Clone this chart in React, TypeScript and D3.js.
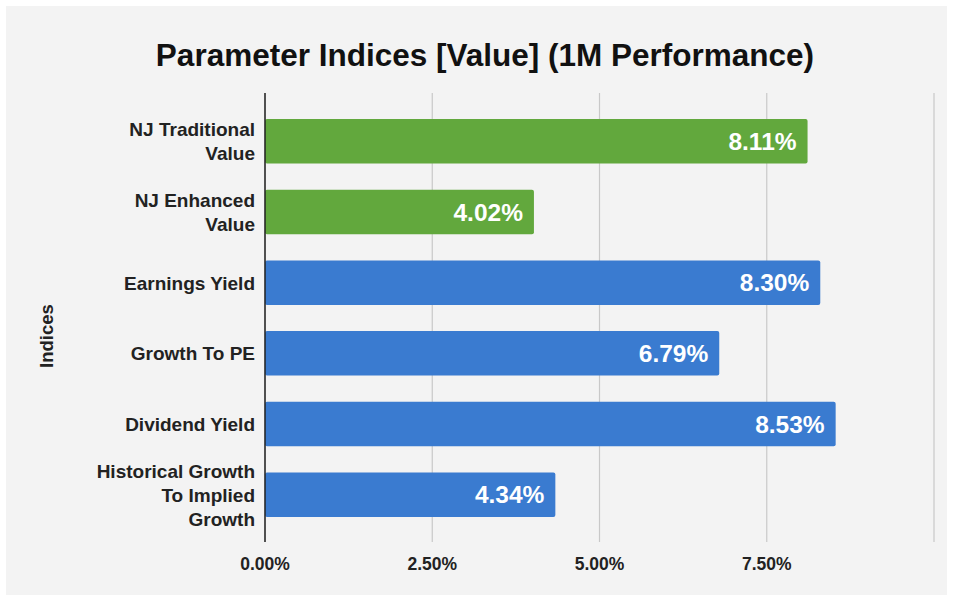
import React from "react";
import * as d3 from "d3";

const categories: string[][] = [
  ["NJ Traditional", "Value"],
  ["NJ Enhanced", "Value"],
  ["Earnings Yield"],
  ["Growth To PE"],
  ["Dividend Yield"],
  ["Historical Growth", "To Implied", "Growth"],
];
const values = [8.11, 4.02, 8.3, 6.79, 8.53, 4.34];
const groups = ["NJ", "NJ", "Param", "Param", "Param", "Param"];
const ticks = [0, 2.5, 5, 7.5, 10];
const tickLabels = ["0.00%", "2.50%", "5.00%", "7.50%", ""];
const title = "Parameter Indices [Value] (1M Performance)";
const yTitle = "Indices";

const W = 953;
const H = 597;
const FONT = "'Liberation Sans', Arial, Helvetica, sans-serif";

export default function App() {
  const x = d3.scaleLinear().domain([0, 10]).range([265, 934]);
  const idx = categories.map((_, i) => String(i));
  const y = d3.scaleBand().domain(idx).range([106, 530]).paddingInner(0.37).paddingOuter(0.185);
  const color = d3.scaleOrdinal<string, string>().domain(["NJ", "Param"]).range(["#62a83d", "#3a7bd0"]);

  return (
    <svg width={W} height={H} style={{ position: "absolute", left: 0, top: 0, fontFamily: FONT }}>
      <rect x={0} y={0} width={W} height={H} fill="#ffffff" />
      <rect x={6} y={6} width={W - 12} height={H - 8} fill="#f3f3f3" />
      <text x={485} y={66} textAnchor="middle" fontSize={31.5} fontWeight="bold" fill="#111">
        {title}
      </text>
      {ticks.map((t, i) => (
        <line key={"g" + i} x1={x(t)} x2={x(t)} y1={93} y2={542} stroke="#c8c8c8" strokeWidth={1.2} />
      ))}
      {values.map((v, i) => {
        const by = y(String(i))!;
        const bh = y.bandwidth();
        return (
          <g key={"b" + i}>
            <rect x={x(0)} y={by} width={x(v) - x(0)} height={bh} fill={color(groups[i])} rx={2} />
            <text
              x={x(v) - 11}
              y={by + bh / 2}
              dy="0.36em"
              textAnchor="end"
              fontSize={24.5}
              fontWeight="bold"
              fill="#ffffff"
            >
              {v.toFixed(2) + "%"}
            </text>
          </g>
        );
      })}
      <line x1={x(0)} x2={x(0)} y1={93} y2={542} stroke="#222" strokeWidth={1.5} />
      {categories.map((lines, i) => {
        const cy = y(String(i))! + y.bandwidth() / 2;
        const lh = 24;
        const start = cy - ((lines.length - 1) * lh) / 2;
        return (
          <text key={"c" + i} textAnchor="end" fontSize={19} fontWeight="bold" fill="#222">
            {lines.map((l, j) => (
              <tspan key={j} x={255} y={start + j * lh} dy="0.36em">
                {l}
              </tspan>
            ))}
          </text>
        );
      })}
      {ticks.map((t, i) => (
        <text key={"t" + i} x={x(t)} y={570} textAnchor="middle" fontSize={17.5} fontWeight="bold" fill="#222">
          {tickLabels[i]}
        </text>
      ))}
      <text
        transform={`translate(53,336) rotate(-90)`}
        textAnchor="middle"
        fontSize={18.5}
        fontWeight="bold"
        fill="#222"
      >
        {yTitle}
      </text>
    </svg>
  );
}
